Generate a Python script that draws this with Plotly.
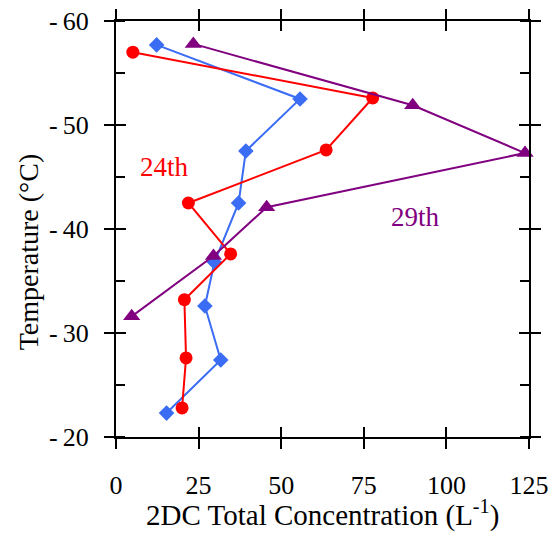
import plotly.graph_objects as go

# Data
red_conc = [5.1, 77.7, 63.6, 21.9, 34.7, 20.7, 21.2, 20.0]
red_temp = [-57.0, -52.6, -47.6, -42.5, -37.6, -33.2, -27.6, -22.8]

blue_conc = [12.3, 55.7, 39.3, 37.1, 29.8, 26.9, 31.7, 15.3]
blue_temp = [-57.7, -52.5, -47.5, -42.5, -36.8, -32.6, -27.4, -22.3]

purple_conc = [23.4, 89.8, 123.8, 45.6, 29.5, 4.75]
purple_temp = [-57.8, -51.9, -47.3, -42.1, -37.4, -31.6]

x_ticks = [0, 25, 50, 75, 100, 125]
y_ticks = [-60, -50, -40, -30, -20]
y_ticktext = ["-\u200960", "-\u200950", "-\u200940", "-\u200930", "-\u200920"]

x_title = "2DC Total Concentration (L<sup>-1</sup>)"
y_title = "Temperature (°C)"

FONT = "Liberation Serif"

fig = go.Figure()
fig.add_trace(go.Scatter(x=blue_conc, y=blue_temp, mode="lines+markers",
                         line=dict(color="#3a6cf4", width=2),
                         marker=dict(symbol="diamond", size=12, color="#3a6cf4"),
                         cliponaxis=False, showlegend=False))
fig.add_trace(go.Scatter(x=red_conc, y=red_temp, mode="lines+markers",
                         line=dict(color="#ff0000", width=2),
                         marker=dict(symbol="circle", size=13, color="#ff0000"),
                         cliponaxis=False, showlegend=False))
fig.add_trace(go.Scatter(x=purple_conc, y=purple_temp, mode="lines+markers",
                         line=dict(color="#800080", width=2),
                         marker=dict(symbol="triangle-up", size=15, color="#800080"),
                         cliponaxis=False, showlegend=False))
# invisible trace for the inner-tick axes
fig.add_trace(go.Scatter(x=[None], y=[None], xaxis="x2", yaxis="y2", showlegend=False))

fig.add_annotation(x=14.8, y=-46.0, text="24th", showarrow=False,
                   font=dict(family=FONT, size=27, color="#ff0000"))
fig.add_annotation(x=90.5, y=-41.2, text="29th", showarrow=False,
                   font=dict(family=FONT, size=27, color="#800080"))

# axis titles as paper-positioned annotations
fig.add_annotation(xref="paper", yref="paper", x=0.501, y=-0.183, text=x_title,
                   showarrow=False, xanchor="center", yanchor="middle",
                   font=dict(family=FONT, size=29, color="black"))
fig.add_annotation(xref="paper", yref="paper", x=-0.212, y=0.445, text=y_title,
                   showarrow=False, textangle=-90, xanchor="center", yanchor="middle",
                   font=dict(family=FONT, size=28, color="black"))

fig.update_layout(
    width=552, height=533,
    margin=dict(l=116, r=23, t=21, b=96),
    paper_bgcolor="white", plot_bgcolor="white",
    font=dict(family=FONT, color="black"),
    xaxis=dict(range=[0, 125], tickvals=x_ticks, ticks="outside", ticklen=10, tickwidth=2,
               tickcolor="black", showline=True, linewidth=2, linecolor="black",
               mirror="allticks", showgrid=False, zeroline=False, automargin=False,
               tickfont=dict(family=FONT, size=26), ticklabelstandoff=14),
    yaxis=dict(range=[-20, -60], tickvals=y_ticks, ticktext=y_ticktext, ticks="outside",
               ticklen=10, tickwidth=2, tickcolor="black", showline=True, linewidth=2,
               linecolor="black", mirror="allticks", showgrid=False, zeroline=False,
               automargin=False,
               tickfont=dict(family=FONT, size=26), ticklabelstandoff=10,
               minor=dict(dtick=5, tick0=-55, ticks="inside", ticklen=9, tickwidth=2,
                          tickcolor="black", showgrid=False)),
    xaxis2=dict(overlaying="x", matches="x", range=[0, 125], tickvals=x_ticks, ticks="inside",
                ticklen=10, tickwidth=2, tickcolor="black", mirror="allticks", automargin=False,
                showticklabels=False, showgrid=False, zeroline=False, showline=False),
    yaxis2=dict(overlaying="y", matches="y", range=[-20, -60], tickvals=y_ticks, ticks="inside",
                ticklen=10, tickwidth=2, tickcolor="black", mirror="allticks", automargin=False,
                showticklabels=False, showgrid=False, zeroline=False, showline=False),
)

fig.write_html("out.html")
